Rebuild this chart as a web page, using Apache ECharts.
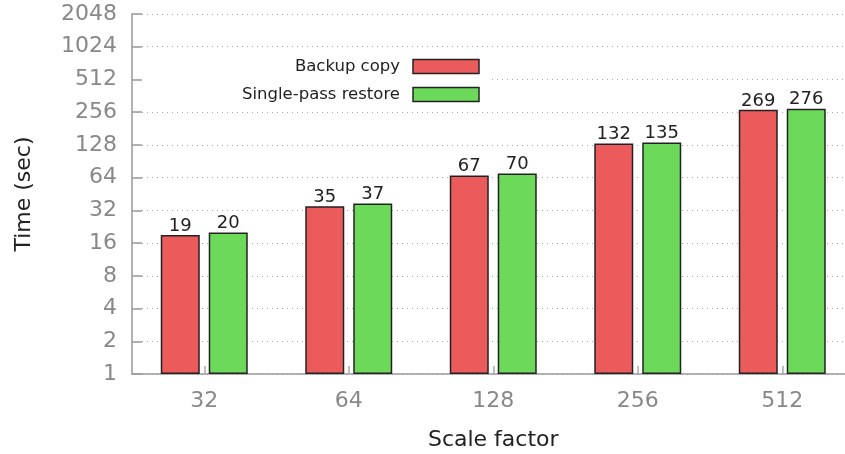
<!DOCTYPE html>
<html>
<head>
<meta charset="utf-8">
<script src="https://cdn.jsdelivr.net/npm/echarts@6/dist/echarts.min.js"></script>
<style>
  html, body { margin: 0; padding: 0; background: #fff; }
  #chart { width: 845px; height: 454px; }
</style>
</head>
<body>
<div id="chart"></div>
<script>
// Scale factors on the x axis
const scaleFactors = ['32', '64', '128', '256', '512'];
// Elapsed time in seconds for each operation
const backupCopy = [19, 35, 67, 132, 269];
const singlePassRestore = [20, 37, 70, 135, 276];
// Powers of two shown on the log-scale y axis
const timeTicks = [1, 2, 4, 8, 16, 32, 64, 128, 256, 512, 1024, 2048];

const FONT = 'DejaVu Sans';
const chart = echarts.init(document.getElementById('chart'), null, { renderer: 'canvas' });

const barLabel = {
  show: true,
  position: 'top',
  distance: 0,
  fontFamily: FONT,
  fontSize: 18,
  color: '#222'
};

chart.setOption({
  animation: false,
  backgroundColor: '#fff',
  textStyle: { fontFamily: FONT },
  grid: {
    left: 132, top: 14, bottom: 80, width: 722.5,
    containLabel: false,
    outerBoundsMode: 'none'
  },
  legend: {
    orient: 'vertical',
    left: 142,
    top: 54,
    align: 'right',
    icon: 'rect',
    itemWidth: 66,
    itemHeight: 14,
    itemGap: 11,
    padding: [4, 10, 4, 100],
    backgroundColor: '#fff',
    itemStyle: { borderColor: '#222', borderWidth: 1.5 },
    textStyle: { fontFamily: FONT, fontSize: 16.5, color: '#222', padding: [0, 8, 0, 0] },
    data: ['Backup copy', 'Single-pass restore']
  },
  xAxis: {
    type: 'category',
    data: scaleFactors,
    name: 'Scale factor',
    nameLocation: 'middle',
    nameGap: 55,
    nameTextStyle: { fontFamily: FONT, fontSize: 22, color: '#222' },
    axisLine: { lineStyle: { color: '#999', width: 1.5 } },
    axisTick: { show: true, alignWithLabel: true, inside: true, length: 8, lineStyle: { color: '#aaa', width: 1.5 } },
    axisLabel: { fontFamily: FONT, fontSize: 22, color: '#888', margin: 16 },
    splitLine: { show: false }
  },
  yAxis: {
    type: 'log',
    logBase: 2,
    min: timeTicks[0],
    max: timeTicks[timeTicks.length - 1],
    interval: 1,
    name: 'Time (sec)',
    nameLocation: 'middle',
    nameGap: 97,
    nameTextStyle: { fontFamily: FONT, fontSize: 22, color: '#222' },
    axisLine: { show: true, lineStyle: { color: '#999', width: 1.5 } },
    axisTick: { show: true, inside: true, length: 10, lineStyle: { color: '#999', width: 1.5 } },
    axisLabel: {
      fontFamily: FONT, fontSize: 22, color: '#888', margin: 15,
      formatter: v => String(Math.round(v))
    },
    splitLine: { show: true, lineStyle: { color: '#aaa', type: [1, 4], width: 1 } }
  },
  series: [
    {
      name: 'Backup copy',
      type: 'bar',
      data: backupCopy,
      barWidth: 39,
      barGap: '23%',
      z: 3,
      itemStyle: { color: '#eb5b5b', borderColor: '#222', borderWidth: 1.5 },
      label: barLabel
    },
    {
      name: 'Single-pass restore',
      type: 'bar',
      data: singlePassRestore,
      barWidth: 39,
      barGap: '23%',
      z: 3,
      itemStyle: { color: '#6dd95b', borderColor: '#222', borderWidth: 1.5 },
      label: barLabel
    }
  ]
});
</script>
</body>
</html>
